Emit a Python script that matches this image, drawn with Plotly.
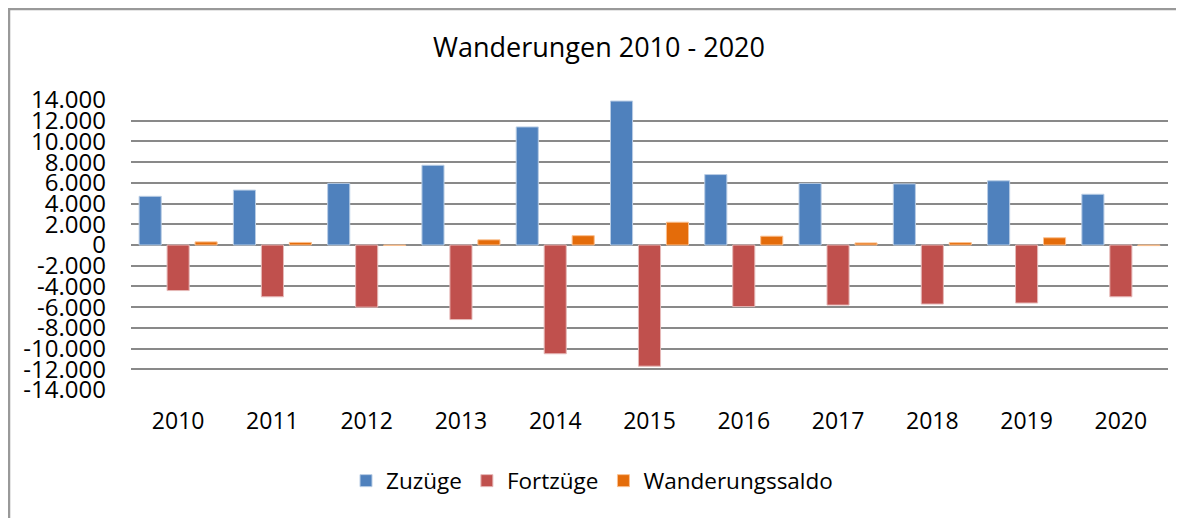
import plotly.graph_objects as go

years = ["2010", "2011", "2012", "2013", "2014", "2015", "2016", "2017", "2018", "2019", "2020"]
zuzuege = [4700, 5300, 5950, 7700, 11400, 13900, 6800, 5950, 5900, 6200, 4900]
fortzuege = [-4400, -5000, -6000, -7200, -10500, -11700, -5950, -5800, -5700, -5600, -5000]
saldo = [300, 250, -50, 500, 900, 2200, 850, 200, 230, 700, -60]

y_ticks = list(range(-14000, 14001, 2000))
y_ticktext = [("-" if v < 0 else "") + f"{abs(v):,}".replace(",", ".") for v in y_ticks]

FONT = "Open Sans"
fig = go.Figure()
for name, vals, color, edge in [
    ("Zuzüge", zuzuege, "#4F81BD", "#B9CDE5"),
    ("Fortzüge", fortzuege, "#C0504D", "#E6B9B8"),
    ("Wanderungssaldo", saldo, "#E46C0A", "#FAC090"),
]:
    fig.add_trace(go.Bar(x=years, y=vals, name=name, marker=dict(color=color, line=dict(color=edge, width=1))))

# the page body adds an 8px margin; lay out in reference pixels minus that offset
OFF = 8
W, H = 1184 - OFF, 518 - OFF
L, T = 131 - OFF, 100 - OFF
R = W - (1168 - OFF)
B = H - (390 - OFF)
pw, ph = W - L - R, H - T - B

def px(x):
    return (x - OFF - L) / pw

def py(y):
    return (H - B - (y - OFF)) / ph

fig.update_layout(
    width=W, height=H,
    margin=dict(l=L, r=R, t=T, b=B),
    paper_bgcolor="white", plot_bgcolor="white",
    barmode="group", bargap=0.11, bargroupgap=0.21,
    font=dict(family=FONT, size=22, color="#000000"),
    title=dict(text="Wanderungen 2010 - 2020", x=(599 - OFF) / W, xanchor="center",
               y=1 - (48 - OFF) / H, yanchor="middle", font=dict(family=FONT, size=27, color="#000")),
    xaxis=dict(showgrid=False, showline=False, zeroline=False, ticks="",
               tickfont=dict(family=FONT, size=23), ticklabelstandoff=15),
    yaxis=dict(range=[-14000, 14000], tickmode="array", tickvals=y_ticks, ticktext=y_ticktext,
               showgrid=True, gridcolor="#898989", gridwidth=1.5, zeroline=True,
               zerolinecolor="#898989", zerolinewidth=1.5, showline=False, ticks="",
               tickfont=dict(family=FONT, size=24), ticklabelstandoff=24),
    legend=dict(orientation="h", x=px(592), xanchor="center", y=py(481), yanchor="middle",
                font=dict(family=FONT, size=22.5), itemwidth=30, traceorder="normal"),
    showlegend=True,
    shapes=[
        dict(type="line", xref="paper", yref="paper", x0=px(OFF), x1=px(1184), y0=py(OFF + 1), y1=py(OFF + 1),
             line=dict(color="#999999", width=2.5)),
        dict(type="line", xref="paper", yref="paper", x0=px(OFF + 1), x1=px(OFF + 1), y0=py(OFF), y1=py(518),
             line=dict(color="#999999", width=2.5)),
    ],
)

fig.write_html("out.html")
